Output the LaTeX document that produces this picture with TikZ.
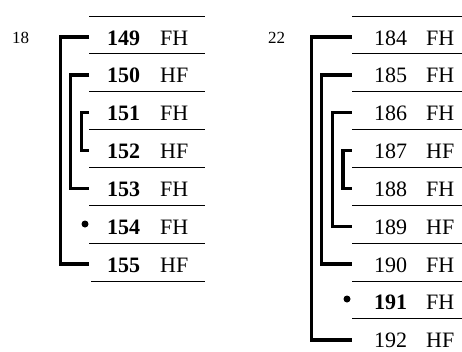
\documentclass[tikz,border=0pt]{standalone}
\usepackage{fontspec}
\setmainfont{Liberation Serif}
\begin{document}
\begin{tikzpicture}[x=1pt,y=-1pt,
  txt/.style={anchor=base west,inner sep=0pt,font=\fontsize{22}{26}\selectfont},
  bnum/.style={txt,font=\fontsize{22}{26}\selectfont\bfseries},
  grp/.style={anchor=base west,inner sep=0pt,font=\fontsize{17}{20}\selectfont},
  dotmark/.style={circle,fill=black,inner sep=0pt,minimum size=7pt},
  sep/.style={line width=0.9pt},
  br/.style={line width=3.4pt,line join=miter}]
\useasboundingbox (0,0) rectangle (462,351);

% ---------- left group ----------
\node[grp] (g18) at (12,43.3) {18};
\foreach \n/\c [count=\k from 0] in {149/FH,150/HF,151/FH,152/HF,153/FH,154/FH,155/HF}{
  \node[bnum] (n\n) at (107,{45+37.85*\k}) {\n};
  \node[txt] (c\n) at (160,{45+37.85*\k}) {\c};
  \coordinate (b\n) at (89,{37+37.85*\k});
}
\foreach \j in {0,...,6}{
  \coordinate (la\j) at (89,{16+37.85*\j});
  \coordinate (lb\j) at (205,{16+37.85*\j});
  \draw[sep] (la\j) -- (lb\j);
}
\coordinate (la7) at (91,{16+37.85*7});
\coordinate (lb7) at (205,{16+37.85*7});
\draw[sep] (la7) -- (lb7);
\node[dotmark] (d154) at (85,224) {};
\draw[br] (b149) -- ++(-28.7,0) |- (b155);
\draw[br] (b150) -- ++(-18.7,0) |- (b153);
\draw[br] (b151) -- ++(-7.7,0) |- (b152);

% ---------- right group ----------
\node[grp] (g22) at (268,43.3) {22};
\foreach \n/\c [count=\k from 0] in {184/FH,185/FH,186/FH,187/HF,188/FH,189/HF,190/FH,192/HF}{
  \ifnum\n=192 \pgfmathsetmacro\kk{8}\else\pgfmathsetmacro\kk{\k}\fi
  \node[txt] (n\n) at (374,{45+37.85*\kk}) {\n};
  \node[txt] (c\n) at (426,{45+37.85*\kk}) {\c};
  \coordinate (b\n) at (351.7,{37+37.85*\kk});
}
\node[bnum] (n191) at (374,{45+37.85*7}) {191};
\node[txt] (c191) at (426,{45+37.85*7}) {FH};
\foreach \j in {0,...,8}{
  \coordinate (ra\j) at (352,{16+37.85*\j});
  \coordinate (rb\j) at (462,{16+37.85*\j});
  \draw[sep] (ra\j) -- (rb\j);
}
\node[dotmark] (d191) at (347,299) {};
\draw[br] (b184) -- ++(-40,0) |- (b192);
\draw[br] (b185) -- ++(-30,0) |- (b190);
\draw[br] (b186) -- ++(-19.4,0) |- (b189);
\draw[br] (b187) -- ++(-8.7,0) |- (b188);
\end{tikzpicture}
\end{document}
